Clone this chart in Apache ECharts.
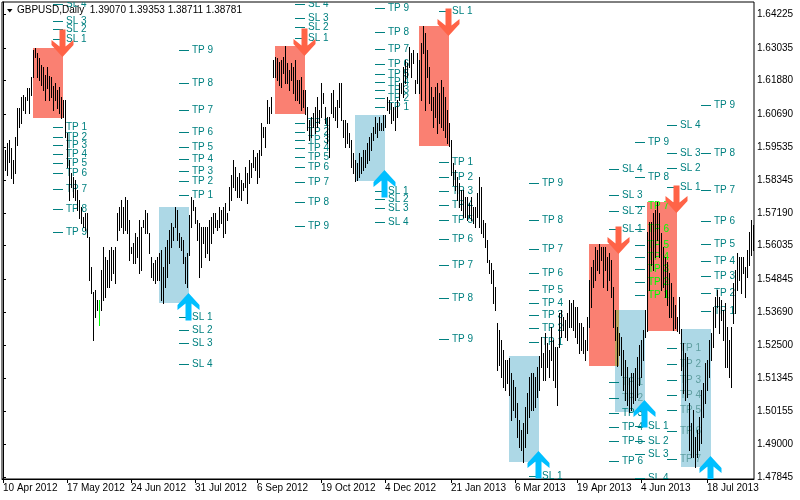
<!DOCTYPE html>
<html><head><meta charset="utf-8">
<script src="https://cdn.jsdelivr.net/npm/echarts@6/dist/echarts.min.js"></script>
<style>html,body{margin:0;padding:0;background:#fff}#c{width:800px;height:500px}</style>
</head><body><div id="c"></div>
<script>
// ---- data ----
const highs = [
1.5935,1.5942,1.5966,1.5977,1.5949,1.5907,1.5988,1.6091,1.6091,1.6129,
1.6136,1.6129,1.6162,1.6162,1.6200,1.6296,1.6303,1.6285,1.6268,1.6243,
1.6236,1.6207,1.6236,1.6204,1.6200,1.6169,1.6179,1.6154,1.6165,1.6129,
1.6119,1.6119,1.6002,1.5907,1.5860,1.5846,1.5836,1.5800,1.5765,1.5740,
1.5705,1.5719,1.5719,1.5634,1.5528,1.5439,1.5446,1.5411,1.5411,1.5517,
1.5598,1.5563,1.5553,1.5588,1.5598,1.5588,1.5598,1.5719,1.5740,1.5765,
1.5740,1.5775,1.5765,1.5694,1.5598,1.5612,1.5648,1.5634,1.5694,1.5669,
1.5694,1.5730,1.5719,1.5648,1.5563,1.5542,1.5553,1.5563,1.5577,1.5588,
1.5528,1.5598,1.5623,1.5659,1.5683,1.5669,1.5740,1.5730,1.5648,1.5634,
1.5623,1.5563,1.5577,1.5712,1.5775,1.5765,1.5740,1.5694,1.5683,1.5669,
1.5669,1.5669,1.5669,1.5694,1.5705,1.5719,1.5719,1.5694,1.5740,1.5730,
1.5740,1.5754,1.5719,1.5811,1.5853,1.5907,1.5882,1.5846,1.5860,1.5836,
1.5825,1.5882,1.5860,1.5907,1.5896,1.5942,1.5917,1.5931,1.5942,1.6037,
1.6023,1.6023,1.6119,1.6094,1.6129,1.6261,1.6271,1.6268,1.6254,1.6261,
1.6271,1.6310,1.6250,1.6225,1.6250,1.6236,1.6261,1.6190,1.6190,1.6200,
1.6154,1.6154,1.6094,1.6048,1.6059,1.6073,1.6094,1.6129,1.6084,1.6179,
1.6143,1.6094,1.6059,1.6059,1.6143,1.6154,1.6094,1.6119,1.6179,1.6179,
1.6048,1.6048,1.6037,1.6002,1.5977,1.5931,1.5907,1.5896,1.5931,1.5917,
1.5942,1.5942,1.5966,1.5988,1.6002,1.6023,1.6059,1.6037,1.6059,1.6037,
1.6066,1.6066,1.6129,1.6119,1.6108,1.6094,1.6094,1.6119,1.6179,1.6179,
1.6236,1.6261,1.6250,1.6306,1.6285,1.6296,1.6190,1.6285,1.6261,1.6320,
1.6381,1.6356,1.6296,1.6236,1.6165,1.6129,1.6165,1.6179,1.6143,1.6190,
1.6165,1.6129,1.6084,1.6037,1.5977,1.5896,1.5871,1.5846,1.5825,1.5800,
1.5800,1.5775,1.5775,1.5754,1.5775,1.5740,1.5740,1.5789,1.5846,1.5811,
1.5694,1.5683,1.5623,1.5553,1.5542,1.5517,1.5457,1.5329,1.5305,1.5269,
1.5234,1.5199,1.5199,1.5206,1.5152,1.5128,1.5103,1.5046,1.4986,1.4951,
1.4975,1.5032,1.5081,1.5138,1.5152,1.5152,1.5138,1.5174,1.5213,1.5280,
1.5223,1.5294,1.5258,1.5234,1.5315,1.5269,1.5244,1.5244,1.5365,1.5376,
1.5351,1.5340,1.5365,1.5411,1.5400,1.5411,1.5386,1.5386,1.5329,1.5329,
1.5315,1.5269,1.5351,1.5482,1.5528,1.5553,1.5598,1.5588,1.5609,1.5598,
1.5598,1.5598,1.5563,1.5577,1.5553,1.5457,1.5376,1.5315,1.5294,1.5280,
1.5234,1.5199,1.5174,1.5135,1.5152,1.5152,1.5171,1.5209,1.5251,1.5269,
1.5305,1.5376,1.5652,1.5687,1.5687,1.5719,1.5730,1.5758,1.5719,1.5648,
1.5598,1.5563,1.5546,1.5506,1.5471,1.5421,1.5393,1.5351,1.5421,1.5308,
1.5258,1.5223,1.5209,1.5046,1.4975,1.5022,1.4926,1.4951,1.4997,1.5092,
1.5117,1.5188,1.5199,1.5269,1.5294,1.5386,1.5421,1.5446,1.5421,1.5411,
1.5376,1.5400,1.5315,1.5269,1.5315,1.5471,1.5517,1.5577,1.5563,1.5563,
1.5563,1.5528,1.5588,1.5652,1.5694,1.5676];
const lows = [
1.5811,1.5871,1.5853,1.5900,1.5843,1.5825,1.5860,1.5959,1.6023,1.6037,
1.6084,1.6073,1.6119,1.6073,1.6136,1.6200,1.6271,1.6200,1.6190,1.6172,
1.6154,1.6119,1.6162,1.6119,1.6129,1.6084,1.6119,1.6091,1.6073,1.6056,
1.6059,1.5988,1.5882,1.5765,1.5811,1.5775,1.5765,1.5730,1.5702,1.5683,
1.5669,1.5659,1.5634,1.5482,1.5435,1.5269,1.5351,1.5376,1.5322,1.5376,
1.5411,1.5421,1.5457,1.5457,1.5482,1.5506,1.5471,1.5623,1.5659,1.5669,
1.5648,1.5659,1.5648,1.5553,1.5577,1.5542,1.5542,1.5563,1.5506,1.5517,
1.5669,1.5648,1.5648,1.5577,1.5492,1.5482,1.5471,1.5482,1.5482,1.5411,
1.5400,1.5457,1.5492,1.5542,1.5598,1.5623,1.5669,1.5623,1.5598,1.5588,
1.5542,1.5471,1.5457,1.5570,1.5669,1.5730,1.5683,1.5623,1.5492,1.5528,
1.5612,1.5563,1.5577,1.5553,1.5612,1.5648,1.5669,1.5659,1.5669,1.5683,
1.5634,1.5648,1.5694,1.5730,1.5765,1.5811,1.5800,1.5775,1.5775,1.5765,
1.5800,1.5811,1.5754,1.5825,1.5846,1.5882,1.5871,1.5825,1.5846,1.5924,
1.5988,1.5952,1.6037,1.6037,1.6073,1.6200,1.6200,1.6190,1.6172,1.6165,
1.6214,1.6179,1.6179,1.6154,1.6190,1.6143,1.6119,1.6119,1.6108,1.6084,
1.6094,1.6070,1.6013,1.5977,1.5988,1.6023,1.6002,1.6023,1.6037,1.6059,
1.6108,1.6037,1.5966,1.5917,1.6073,1.6059,1.6048,1.6023,1.6094,1.6048,
1.5988,1.5952,1.5966,1.5952,1.5882,1.5860,1.5832,1.5836,1.5846,1.5860,
1.5871,1.5882,1.5896,1.5907,1.5942,1.5977,1.6002,1.5988,1.6013,1.6013,
1.6013,1.6023,1.6084,1.6073,1.6037,1.6048,1.6013,1.6059,1.6119,1.6143,
1.6129,1.6179,1.6200,1.6236,1.6200,1.6250,1.6143,1.6179,1.6143,1.6119,
1.6285,1.6084,1.6200,1.6108,1.6084,1.6023,1.6059,1.6002,1.6037,1.6023,
1.6013,1.5988,1.5966,1.5957,1.5853,1.5818,1.5800,1.5765,1.5740,1.5730,
1.5705,1.5705,1.5694,1.5705,1.5694,1.5683,1.5669,1.5705,1.5669,1.5648,
1.5634,1.5598,1.5546,1.5506,1.5471,1.5400,1.5376,1.5163,1.5181,1.5138,
1.5103,1.5092,1.5117,1.5074,1.4986,1.5022,1.4997,1.4926,1.4890,1.4880,
1.4839,1.4890,1.4940,1.4997,1.5022,1.5022,1.5032,1.5067,1.5092,1.5174,
1.5128,1.5128,1.5174,1.5138,1.5199,1.5128,1.5103,1.5039,1.5244,1.5280,
1.5305,1.5280,1.5269,1.5315,1.5315,1.5305,1.5280,1.5258,1.5223,1.5234,
1.5223,1.5199,1.5234,1.5315,1.5386,1.5457,1.5482,1.5517,1.5506,1.5553,
1.5457,1.5517,1.5446,1.5482,1.5421,1.5315,1.5269,1.5177,1.5216,1.5145,
1.5092,1.5057,1.5039,1.5015,1.5022,1.5046,1.5057,1.5067,1.5110,1.5138,
1.5199,1.5280,1.5301,1.5446,1.5535,1.5517,1.5563,1.5623,1.5563,1.5446,
1.5457,1.5421,1.5393,1.5351,1.5351,1.5305,1.5312,1.5301,1.5294,1.5163,
1.5081,1.5057,1.5067,1.4880,1.4855,1.4855,1.4820,1.4855,1.4880,1.4904,
1.4997,1.5046,1.5092,1.5138,1.5199,1.5244,1.5315,1.5386,1.5294,1.5340,
1.5269,1.5174,1.5174,1.5138,1.5103,1.5329,1.5365,1.5446,1.5482,1.5435,
1.5506,1.5421,1.5492,1.5535,1.5570,1.5588];
const greenBars = [48];

const xTickIdx  = [0,32,64,96,127,159,191,224,256,287,319,352];
const xTickText = ['10 Apr 2012','17 May 2012','24 Jun 2012','31 Jul 2012','6 Sep 2012','19 Oct 2012',
                   '4 Dec 2012','21 Jan 2013','6 Mar 2013','19 Apr 2013','4 Jun 2013','18 Jul 2013'];
const yTicks = [1.47845,1.49000,1.50155,1.51345,1.52500,1.53690,1.54845,1.56035,1.57190,1.58345,
                1.59535,1.60690,1.61880,1.63035,1.64225];
const yMin = 1.477741, yMax = 1.646604;
const xMin = -0.5, xMax = 375.5;

const sigType  = ['sell','buy','sell','buy','sell','buy','sell','buy','sell','buy'];
const sigStart = [15,78,136,176,208,253,293,306,322,339];
const sigEnd   = [30,93,151,191,223,268,308,321,337,354];
const sigArrow = [1.6271,1.5437,1.6275,1.5871,1.6347,1.4876,1.5574,1.5057,1.5720,1.4860];
const sigSL = [
  [1.6334,1.6369,1.6400,1.6459],
  [1.5350,1.5305,1.5258,1.5183],
  [1.6340,1.6376,1.6408,1.6458],
  [1.5798,1.5768,1.5736,1.5686],
  [1.6435],
  [1.4788],
  [1.5664,1.5725,1.5782,1.5876],
  [1.4965,1.4913,1.4866,1.4782],
  [1.5812,1.5877,1.5933,1.6032],
  []
];
const sigTP = [
  [1.6022,1.5989,1.5959,1.5927,1.5897,1.5860,1.5803,1.5734,1.5651],
  [1.5784,1.5831,1.5869,1.5911,1.5952,1.6007,1.6082,1.6178,1.6296],
  [1.6037,1.6007,1.5977,1.5948,1.5918,1.5881,1.5828,1.5759,1.5674],
  [1.6093,1.6125,1.6154,1.6184,1.6211,1.6245,1.6299,1.6361,1.6444],
  [1.5901,1.5845,1.5796,1.5746,1.5694,1.5626,1.5534,1.5418,1.5272],
  [1.5262,1.5311,1.5357,1.5399,1.5445,1.5508,1.5591,1.5693,1.5824],
  [1.5120,1.5063,1.5010,1.4960,1.4913,1.4841],
  [1.5428,1.5474,1.5520,1.5562,1.5606,1.5664,1.5745,1.5845,1.5972],
  [1.5241,1.5185,1.5128,1.5074,1.5021,1.4946,1.4847],
  [1.5372,1.5435,1.5495,1.5550,1.5608,1.5690,1.5799,1.5930,1.6100]
];
const headerText = 'GBPUSD,Daily  1.39070 1.39353 1.38711 1.38781';

// ---- styles ----
const FONT = "'Liberation Sans',Arial,sans-serif";
const FS = 10;
const TEAL = '#008080';
const SELL_BOX = '#fa8072', BUY_BOX = '#add8e6', OVERLAP_BOX = '#b5a05a';
const SELL_ARROW = '#ff6347', BUY_ARROW = '#00bfff';
const ARROW = [[-3,-27.5],[3,-27.5],[3,-10.5],[11,-17],[11,-12],[0,0],[-11,-12],[-11,-17],[-3,-10.5]];

// ---- derived ----
const barData = highs.map((h,i)=>[i,h,lows[i]]);
const boxes = sigEnd.map((e,k)=>{
  const s = sigStart[k]; let hi=-Infinity, lo=Infinity;
  for (let i=s;i<=e;i++){ hi=Math.max(hi,highs[i]); lo=Math.min(lo,lows[i]); }
  return {type:sigType[k], s, e, hi, lo};
});
const overlaps = [];
for (let a=0;a<boxes.length;a++) for (let b=a+1;b<boxes.length;b++){
  const A=boxes[a], B=boxes[b];
  if (A.type===B.type) continue;
  const s=Math.max(A.s,B.s), e=Math.min(A.e,B.e), hi=Math.min(A.hi,B.hi), lo=Math.max(A.lo,B.lo);
  if (s<e && lo<hi) overlaps.push({s,e,hi,lo});
}
const labelItems = [];
boxes.forEach((bx,k)=>{
  const add=(arr,prefix)=>arr.forEach((p,j)=>{
    let color = TEAL; const xv = bx.e + 6;
    boxes.forEach((o,m)=>{
      if (m!==k && xv>=o.s && xv<=o.e && p<=o.hi && p>=o.lo) color = o.type==='sell' ? '#00ff00' : '#5f9ea0';
    });
    labelItems.push({value:[bx.e,p], name:prefix+' '+(j+1), color});
  });
  add(sigSL[k],'SL'); add(sigTP[k],'TP');
});

const chart = echarts.init(document.getElementById('c'), null, {renderer:'canvas'});
const rectOf = (api,s,hi,e,lo)=>{
  const p1=api.coord([s,hi]), p2=api.coord([e,lo]);
  const x=Math.round(p1[0]), y=Math.round(p1[1]);
  return {x, y, width:Math.round(p2[0])-x, height:Math.round(p2[1])-y};
};
chart.setOption({
  animation:false,
  backgroundColor:'#fff',
  grid:{left:2,right:46,top:2,bottom:21,show:true,borderColor:'#000',borderWidth:1,backgroundColor:'#fff',outerBoundsMode:'none'},
  xAxis:{type:'value',min:xMin,max:xMax,position:'bottom',
    axisLine:{show:true,onZero:false,lineStyle:{color:'#000',width:1}},
    axisTick:{show:true,length:4,customValues:xTickIdx,lineStyle:{color:'#000'}},
    axisLabel:{customValues:xTickIdx,formatter:v=>{const k=xTickIdx.indexOf(v);return k>=0?xTickText[k]:'';},
      align:'left',margin:4,color:'#000',fontSize:FS,fontFamily:FONT},
    splitLine:{show:false}},
  yAxis:{type:'value',position:'right',min:yMin,max:yMax,
    axisLine:{show:true,lineStyle:{color:'#000',width:1}},
    axisTick:{show:true,length:3,customValues:yTicks,lineStyle:{color:'#000'}},
    axisLabel:{customValues:yTicks,formatter:v=>v.toFixed(5),margin:3,color:'#000',fontSize:FS,fontFamily:FONT},
    splitLine:{show:false}},
  graphic:[
    {type:'polygon',shape:{points:[[7,9],[12.5,9],[9.75,12.5]]},style:{fill:'#000'},z:100},
    {type:'text',left:17,top:5,style:{text:headerText,fill:'#000',fontSize:FS,fontFamily:FONT},z:100}
  ],
  series:[
    {type:'custom',name:'boxes',z:1,clip:true,data:boxes.map(b=>[b.s,b.hi,b.e,b.lo]),encode:{x:[0,2],y:[1,3]},
     renderItem:(params,api)=>{const b=boxes[params.dataIndex];
       return {type:'rect',shape:rectOf(api,b.s,b.hi,b.e,b.lo),style:{fill:b.type==='sell'?SELL_BOX:BUY_BOX}};}},
    {type:'custom',name:'overlap',z:2,clip:true,data:overlaps.map(o=>[o.s,o.hi,o.e,o.lo]),encode:{x:[0,2],y:[1,3]},
     renderItem:(params,api)=>{const o=overlaps[params.dataIndex];
       return {type:'rect',shape:rectOf(api,o.s,o.hi,o.e,o.lo),style:{fill:OVERLAP_BOX}};}},
    {type:'custom',name:'levels',z:3,clip:true,data:labelItems.map(l=>l.value),encode:{x:0,y:1},
     renderItem:(params,api)=>{const it=labelItems[params.dataIndex];
       const pt=api.coord(it.value); const x=Math.round(pt[0]); const y=Math.round(pt[1])+0.5;
       return {type:'group',children:[
         {type:'line',shape:{x1:x-10,y1:y,x2:x,y2:y},style:{stroke:TEAL,lineWidth:1}},
         {type:'text',x:x+3,y:y,style:{text:it.name,fill:it.color,fontSize:FS,fontFamily:FONT,align:'left',verticalAlign:'middle'}}
       ]};}},
    {type:'custom',name:'bars',z:4,clip:true,data:barData,encode:{x:0,y:[1,2]},
     renderItem:(params,api)=>{const i=api.value(0);
       const p1=api.coord([i,api.value(1)]), p2=api.coord([i,api.value(2)]);
       const x=Math.round(p1[0])+0.5;
       return {type:'line',shape:{x1:x,y1:Math.round(p1[1]),x2:x,y2:Math.round(p2[1])+1},
         style:{stroke:greenBars.includes(i)?'#00ff00':'#000',lineWidth:1}};}},
    {type:'custom',name:'arrows',z:5,clip:true,data:sigEnd.map((e,k)=>[e,sigArrow[k]]),encode:{x:0,y:1},
     renderItem:(params,api)=>{const k=params.dataIndex;
       const pt=api.coord([sigEnd[k],sigArrow[k]]); const dir=sigType[k]==='sell'?1:-1;
       const pts=ARROW.map(([dx,dy])=>[Math.round(pt[0])-0.5+dx, Math.round(pt[1])+dir*dy]);
       return {type:'polygon',shape:{points:pts},style:{fill:sigType[k]==='sell'?SELL_ARROW:BUY_ARROW}};}}
  ]
});
</script>
</body></html>
